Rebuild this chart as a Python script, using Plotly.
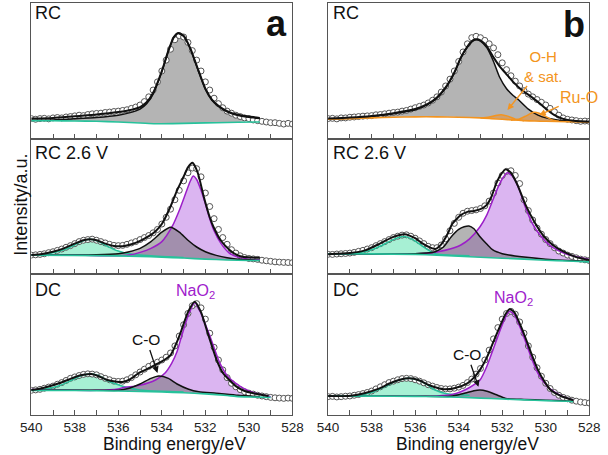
import plotly.graph_objects as go

FONT = "Liberation Sans, Arial, Helvetica, sans-serif"
W, H = 608, 455

# ---------------- data (binding energy in eV, intensity in % of panel height) ----------------
E_DATA = [round(540 - 0.2 * i, 1) for i in range(61)]
E_MAJOR = [540, 538, 536, 534, 532, 530, 528]
E_MAJOR_TEXT = ["540", "538", "536", "534", "532", "530", "528"]

# ---- panel a, RC ----
A1_DATA = [15.0, 14.5, 15.0, 15.2, 14.8, 15.5, 15.8, 15.5, 16.2, 16.5, 17.0, 17.5, 17.2, 18.0, 18.5,
           18.8, 19.0, 19.5, 19.8, 20.2, 20.5, 21.0, 21.5, 22.5, 23.5, 25.0, 27.5, 31.0, 36.0, 42.0,
           50.0, 58.0, 66.0, 73.0, 76.0, 75.0, 71.0, 65.0, 58.0, 50.0, 42.0, 36.0, 30.0, 26.0, 23.0,
           20.5, 19.0, 17.5, 16.5, 15.5, 15.0, 14.0, 13.5, 13.0, 12.5, 12.0, 12.0, 11.5, 11.0, 11.5, 11.0]
A1_ENV_E = [540, 539, 538, 537, 536, 535.5, 535, 534.7, 534.4, 534, 533.7, 533.45, 533.25, 533.0, 532.7,
            532.4, 532.0, 531.7, 531.4, 531.0, 530.5, 530.0, 529.5]
A1_ENV = [15, 15.5, 16.8, 18, 19.8, 21.2, 23.5, 27, 34, 50, 65, 75, 78, 76, 67, 54, 37, 29, 24.5, 20.5,
          17.8, 16.5, 15.5]
A1_GRAY_E = A1_ENV_E
A1_GRAY = [13.8, 14.0, 14.8, 15.8, 17.5, 19.2, 22.0, 26, 33, 49.5, 64.5, 74.5, 77.5, 75.5, 66.5, 53.5,
           36.5, 28.5, 24, 20, 17.3, 16, 15]
A1_BG_E = [540, 539, 538, 537, 536, 535, 534.3, 533.5, 532.5, 531.5, 530.5, 529.5]
A1_BG = [13.5, 13.4, 13.2, 13.0, 12.5, 11.8, 11.2, 11.3, 11.7, 12.0, 12.3, 12.5]

# ---- panel b, RC ----
B1_DATA = [15.0, 15.2, 14.8, 15.5, 15.5, 16.0, 16.2, 16.5, 16.8, 17.0, 17.2, 17.8, 18.0, 18.5, 19.0,
           19.5, 19.8, 20.5, 21.0, 22.0, 23.0, 24.0, 25.0, 26.5, 28.5, 31.0, 34.5, 39.0, 44.0, 50.0,
           57.0, 64.0, 70.0, 74.5, 75.5, 74.5, 72.5, 70.0, 67.0, 62.0, 56.0, 51.0, 46.5, 42.5, 39.0,
           35.5, 33.0, 31.0, 29.0, 27.0, 25.0, 22.5, 20.0, 17.5, 15.5, 14.5, 14.0, 13.5, 13.0, 13.2, 13.0]
B1_ENV_E = [540, 539, 538, 537, 536, 535.4, 535, 534.6, 534.2, 533.9, 533.6, 533.35, 533.19, 533.0, 532.7,
            532.4, 532.1, 531.84, 531.5, 531.1, 530.66, 530.3, 529.9, 529.6, 529.2, 528.8, 528.4, 528]
B1_ENV = [15, 15.8, 17, 19, 22, 26, 30.5, 38, 49, 60, 68, 72.5, 73.3, 72.5, 68, 60, 53, 48.3, 42, 36,
          31, 26.5, 21, 17.6, 14.8, 13.6, 13, 12.8]
B1_GRAY_E = [540, 539, 538, 537, 536, 535.4, 535, 534.6, 534.2, 533.9, 533.6, 533.35, 533.19, 533.0, 532.7,
             532.4, 532.13, 531.8, 531.5, 531.24, 530.8, 530.36, 529.9, 529.47, 529, 528.5, 528]
B1_GRAY = [14.5, 15.3, 16.5, 18.5, 21.5, 25.5, 30, 37.5, 48.5, 59.5, 67.5, 72, 73, 72, 67, 57, 45.8, 37,
           32, 28.7, 22, 17.6, 15.2, 14, 13.2, 12.7, 12.5]
B1_OH_E = [533.0, 532.6, 532.3, 532.05, 531.75, 531.4, 531.0]
B1_OH = [15.5, 16.2, 17.3, 17.8, 16.8, 14.6, 13.5]
B1_RUO_E = [531.6, 531.2, 530.9, 530.6, 530.3, 530.0, 529.7, 529.4]
B1_RUO = [13.8, 14.8, 17.0, 19.5, 19.0, 16.5, 14.0, 13.0]
B1_BG_E = [540, 539, 538, 537, 536, 535, 534, 533, 532.5, 532, 531.5, 531, 530.5, 530, 529, 528]
B1_BG = [14.5, 15.0, 15.5, 16.0, 16.3, 16.3, 16.0, 15.5, 15.0, 14.5, 14.0, 13.5, 13.2, 13.0, 12.7, 12.5]

# ---- panel a, RC 2.6 V ----
A2_DATA = [14.0, 14.2, 14.5, 15.0, 15.8, 16.5, 17.5, 18.5, 19.8, 21.0, 22.5, 24.0, 25.0, 25.5, 25.8,
           25.0, 24.0, 23.0, 22.0, 21.2, 21.0, 21.2, 22.0, 23.0, 24.0, 25.5, 27.0, 28.5, 30.5, 33.0,
           37.0, 42.0, 48.0, 55.0, 62.0, 69.0, 75.0, 78.5, 78.0, 72.0, 60.0, 50.0, 41.0, 33.0, 27.0,
           22.0, 18.0, 15.5, 13.5, 12.2, 11.5, 11.2, 10.8, 10.2, 9.8, 9.4, 9.0, 8.8, 8.6, 8.5, 8.4]
A2_ENV_E = [540, 539.5, 539, 538.5, 538, 537.6, 537.3, 537, 536.6, 536.2, 535.8, 535.4, 535, 534.6, 534.3,
            534, 533.6, 533.3, 533.0, 532.8, 532.59, 532.35, 532.07, 531.8, 531.63, 531.3, 530.9, 530.6,
            530.3, 529.9, 529.5]
A2_ENV = [14, 14.8, 16.5, 19, 22.5, 25, 25.8, 25, 22.5, 20.8, 20.6, 22, 24.5, 28, 31.5, 37, 50, 62, 72,
          79, 82.4, 75, 57, 42, 35, 25, 18, 14.5, 12.8, 12.2, 12]
A2_GREEN_E = [540, 539.5, 539, 538.5, 538, 537.7, 537.3, 536.9, 536.5, 536, 535.5, 535, 534, 533]
A2_GREEN = [14, 14.5, 15.8, 18, 21.5, 24, 25.7, 24, 20.5, 17, 15, 14, 13, 12.2]
A2_PURPLE_E = [540, 538, 536, 535.5, 535, 534.5, 534, 533.5, 533.2, 532.9, 532.7, 532.56, 532.4, 532.2,
               532.0, 531.8, 531.6, 531.3, 530.9, 530.5, 530, 529.5]
A2_PURPLE = [14, 14, 13.5, 14, 16, 19, 24, 36, 47, 60, 68.5, 72.6, 70, 62, 52, 41, 32, 23, 15.5, 12.5,
             11, 10.5]
A2_GRAY_E = [540, 538, 537, 536, 535.5, 535, 534.5, 534, 533.6, 533.2, 532.8, 532.4, 532, 531.5, 531,
             530.5, 530, 529.5]
A2_GRAY = [14, 14, 14.2, 15, 16.5, 19, 24, 31, 34.6, 31, 25, 20, 16.5, 13.8, 12, 11, 10.5, 10]
A2_BG_E = [540, 538, 536, 535, 534, 533, 532, 531, 530, 529.5]
A2_BG = [14, 13.8, 13.4, 13.0, 12.5, 11.8, 11, 10.4, 10, 10]

# ---- panel b, RC 2.6 V ----
B2_DATA = [14.6, 14.5, 14.8, 15.0, 15.2, 15.5, 16.0, 16.8, 17.5, 18.5, 19.5, 21.0, 22.5, 24.0, 25.5,
           27.0, 28.0, 28.8, 29.0, 28.0, 26.5, 24.5, 22.5, 20.5, 19.5, 19.5, 21.5, 26.0, 32.0, 37.5,
           42.0, 45.0, 46.5, 47.0, 47.5, 48.5, 50.5, 54.0, 60.0, 67.5, 73.0, 76.0, 76.5, 73.0, 67.0,
           55.0, 47.0, 40.0, 34.0, 29.5, 25.5, 22.5, 19.5, 17.0, 15.5, 14.0, 13.0, 12.0, 11.0, 10.5, 10.0]
B2_ENV_E = [540, 539, 538.3, 537.6, 537, 536.49, 536, 535.67, 535.3, 535.08, 534.8, 534.5, 534.3, 533.9,
            533.6, 533.3, 533.0, 532.72, 532.5, 532.28, 532.05, 531.84, 531.6, 531.3, 530.95, 530.5,
            530.07, 529.6, 529.18, 528.6, 528]
B2_ENV = [14.6, 15.5, 17.5, 22.7, 27.5, 29.5, 26.5, 22.7, 19.5, 18.5, 22, 30, 37, 43.7, 46, 46.7, 48, 51,
          57, 67, 74, 77.5, 75, 66, 52, 38, 27.6, 20.5, 16.5, 12.5, 10.4]
B2_GREEN_E = [540, 539, 538.33, 537.9, 537.6, 537.2, 536.8, 536.49, 536.1, 535.67, 535.3, 535.08, 534.5, 533.5]
B2_GREEN = [15, 15.2, 16.5, 18.5, 20.7, 24, 26.8, 27.7, 25.5, 20.7, 16.8, 15, 14, 13.5]
B2_PURPLE_E = [540, 537, 535.5, 534.95, 534.4, 533.9, 533.5, 533.02, 532.7, 532.43, 532.2, 531.96, 531.76,
               531.5, 531.2, 530.95, 530.6, 530.2, 529.8, 529.47, 529, 528.44, 528]
B2_PURPLE = [15, 14.8, 15.3, 16.5, 18.5, 21.5, 26, 35, 44, 54.8, 64, 71.5, 75, 72, 62, 50, 37, 27.6, 21,
             17.8, 14.5, 12.3, 10.8]
B2_GRAY_E = [540, 537, 536, 535.5, 535.08, 534.7, 534.34, 534, 533.75, 533.53, 533.3, 533.02, 532.7,
             532.43, 532, 531.7, 531, 530, 529, 528]
B2_GRAY = [14.8, 14.8, 15, 15.5, 16.5, 20, 27.6, 33, 35, 35.6, 33.5, 27.6, 22, 17.8, 15, 14, 12.5, 11,
           10, 9.5]
B2_BG_E = [540, 538, 536, 535, 534, 533, 532, 531, 530, 529, 528]
B2_BG = [15, 14.9, 14.5, 14.0, 13.2, 12.4, 11.7, 11.0, 10.2, 9.6, 9.0]

# ---- panel a, DC ----
A3_DATA = [17.5, 17.8, 18.2, 19.0, 19.8, 20.5, 21.8, 23.0, 24.5, 26.0, 27.0, 28.0, 28.8, 29.2, 29.0,
           28.5, 27.2, 26.0, 25.0, 24.0, 23.8, 24.0, 25.0, 26.5, 28.5, 30.5, 32.5, 34.5, 36.0, 37.5,
           39.0, 41.0, 44.0, 49.0, 56.0, 64.0, 72.0, 77.5, 79.0, 76.0, 68.0, 58.0, 48.0, 39.0, 32.0,
           26.5, 22.5, 20.0, 18.0, 16.5, 15.5, 14.8, 14.0, 13.5, 13.0, 12.5, 12.2, 12.0, 11.8, 12.0, 11.8]
A3_ENV_E = [540, 539.5, 538.72, 538.3, 537.98, 537.6, 537.24, 536.9, 536.5, 536.06, 535.76, 535.5, 535.03,
            534.5, 534, 533.6, 533.3, 533.1, 532.8, 532.49, 532.2, 531.93, 531.7, 531.48, 531.2, 530.9,
            530.6, 530.3, 529.7, 529.1]
A3_ENV = [17.7, 19, 22.5, 25, 27, 28.5, 29, 27.5, 24.8, 23.6, 23.6, 25, 30, 34, 38, 42.5, 52, 60, 73,
          80.4, 73, 60, 49, 39, 30, 24.8, 20.5, 17.7, 15, 13.5]
A3_GREEN_E = [540, 539.45, 538.72, 538.3, 537.9, 537.6, 537.24, 536.9, 536.5, 536.2, 535.6, 535, 534, 533]
A3_GREEN = [17.5, 18.2, 20.8, 23.5, 26.5, 28.3, 29, 27.8, 24.5, 22.5, 19.5, 17.8, 16.8, 16.3]
A3_PURPLE_E = [540, 537, 536, 535.76, 535.03, 534.29, 533.84, 533.55, 533.3, 533.1, 532.8, 532.49, 532.2,
               531.78, 531.33, 530.95, 530.6, 530.2, 529.7, 529.3, 529]
A3_PURPLE = [18, 17.5, 18.5, 19.5, 21, 24.8, 30, 36.6, 45, 55.5, 70, 79.6, 72, 55.5, 36.6, 27, 22.5, 18.5,
             15.4, 14, 13]
A3_GRAY_E = [540, 537, 536, 535.5, 535, 534.5, 534.14, 533.7, 533.3, 532.8, 532.3, 531.5, 530.5, 529.5]
A3_GRAY = [17.8, 17.6, 17.5, 19, 22, 26, 27.7, 26, 22, 18.5, 16.5, 15.5, 14, 13]
A3_BG_E = [540, 538, 536, 535, 534, 533, 532, 531, 530.6, 530, 529]
A3_BG = [17.5, 17.4, 17.0, 16.7, 16.3, 15.8, 15, 13.8, 13.2, 12.8, 12.5]

# ---- panel b, DC ----
B3_DATA = [13.0, 13.2, 12.8, 13.0, 13.3, 13.5, 14.0, 14.5, 15.2, 16.0, 17.0, 18.5, 20.0, 21.5, 23.0,
           24.0, 25.0, 25.8, 26.0, 25.8, 25.0, 24.0, 22.8, 21.5, 20.5, 19.5, 18.8, 18.5, 18.5, 19.0,
           19.8, 21.0, 23.0, 25.5, 29.0, 33.0, 39.0, 46.0, 54.0, 62.0, 68.0, 72.0, 73.5, 71.5, 66.0,
           58.0, 49.0, 41.0, 33.5, 27.5, 22.5, 18.8, 16.0, 14.0, 12.5, 11.5, 10.5, 9.8, 9.2, 8.8, 8.5]
B3_ENV_E = [540, 539.07, 538.33, 537.7, 537.15, 536.7, 536.27, 535.8, 535.38, 535.0, 534.64, 534.2, 533.6,
            533.3, 533.02, 532.7, 532.43, 532.1, 531.85, 531.66, 531.45, 531.2, 530.95, 530.65, 530.36,
            530.05, 529.77, 529.3, 528.74]
B3_ENV = [13.5, 13.5, 15.4, 18.5, 22.5, 25, 26, 24.5, 21.3, 19.3, 18.2, 19, 22.5, 26.5, 32, 41, 51, 63,
          71.5, 75, 73, 65, 55.5, 43, 32, 23.5, 17.7, 13.5, 10.6]
B3_GREEN_E = [540, 539, 538.6, 537.9, 537.4, 537.0, 536.6, 536.27, 535.9, 535.5, 535.08, 534.6, 534.2, 533.5]
B3_GREEN = [13.5, 13.5, 14.0, 16.5, 20, 23.2, 25.3, 26, 25, 22, 17.7, 15.2, 14.5, 14.0]
B3_PURPLE_E = [540, 536, 535, 534.3, 533.9, 533.5, 533.02, 532.72, 532.43, 532.1, 531.85, 531.66, 531.45,
               531.2, 530.95, 530.65, 530.36, 530.0, 529.62, 529.2, 528.74]
B3_PURPLE = [13.5, 13.3, 13.5, 14.5, 16.5, 19.5, 24.8, 34, 46, 60, 69.5, 73.4, 71, 63, 53, 40, 29.5, 21.5,
             16.5, 13, 10.6]
B3_GRAY_E = [540, 536, 534.5, 534.05, 533.6, 533.3, 533.02, 532.7, 532.3, 531.84, 531, 530, 529, 528.74]
B3_GRAY = [13.4, 13.3, 13.2, 14.2, 16.0, 17.2, 17.7, 16.8, 14.5, 11.8, 11.0, 10.5, 10.0, 9.8]
B3_BG_E = [540, 538, 536, 535, 534, 533, 532, 531, 530, 529, 528.74]
B3_BG = [13.5, 13.4, 13.2, 13.0, 12.6, 12.0, 11.3, 10.7, 10.2, 9.7, 9.5]

PANEL_LABELS = ["RC", "RC", "RC 2.6 V", "RC 2.6 V", "DC", "DC"]

# ---------------- styles ----------------
TEAL = "#27c29b"
PURPLE = "#9b1ec8"
ORANGE = "#f39420"
FRAME = "#555555"
STYLE = {
    "gray": dict(line="#111111", fill="rgba(105,105,105,0.5)", width=1.5),
    "purple": dict(line=PURPLE, fill="rgba(175,90,225,0.45)", width=1.5),
    "green": dict(line=TEAL, fill="rgba(60,222,160,0.45)", width=1.5),
    "orange": dict(line=ORANGE, fill="rgba(235,140,40,0.5)", width=1.5),
}

PANELS = [
    dict(data=A1_DATA, env=(A1_ENV_E, A1_ENV), bg=(A1_BG_E, A1_BG, TEAL),
         comps=[(A1_GRAY_E, A1_GRAY, "gray")]),
    dict(data=B1_DATA, env=(B1_ENV_E, B1_ENV), bg=(B1_BG_E, B1_BG, ORANGE),
         comps=[(B1_GRAY_E, B1_GRAY, "gray"), (B1_OH_E, B1_OH, "orange"), (B1_RUO_E, B1_RUO, "orange")]),
    dict(data=A2_DATA, env=(A2_ENV_E, A2_ENV), bg=(A2_BG_E, A2_BG, TEAL),
         comps=[(A2_GREEN_E, A2_GREEN, "green"), (A2_PURPLE_E, A2_PURPLE, "purple"), (A2_GRAY_E, A2_GRAY, "gray")]),
    dict(data=B2_DATA, env=(B2_ENV_E, B2_ENV), bg=(B2_BG_E, B2_BG, TEAL),
         comps=[(B2_GREEN_E, B2_GREEN, "green"), (B2_PURPLE_E, B2_PURPLE, "purple"), (B2_GRAY_E, B2_GRAY, "gray")]),
    dict(data=A3_DATA, env=(A3_ENV_E, A3_ENV), bg=(A3_BG_E, A3_BG, TEAL),
         comps=[(A3_GREEN_E, A3_GREEN, "green"), (A3_PURPLE_E, A3_PURPLE, "purple"), (A3_GRAY_E, A3_GRAY, "gray")]),
    dict(data=B3_DATA, env=(B3_ENV_E, B3_ENV), bg=(B3_BG_E, B3_BG, TEAL),
         comps=[(B3_GREEN_E, B3_GREEN, "green"), (B3_PURPLE_E, B3_PURPLE, "purple"), (B3_GRAY_E, B3_GRAY, "gray")]),
]

# layout geometry (pixels)
COL_X = [(21, 292), (329, 600)]
ROW_Y = [(3, 139), (139, 274), (274, 415)]


def px_x(p):
    return p / W


def px_y(p):
    return 1 - p / H


def fill_polygon(cx, cy, bx, by):
    lo, hi = min(cx), max(cx)
    xs = list(cx)
    ys = list(cy)
    for e, v in zip(reversed(bx), reversed(by)):
        if lo < e < hi:
            xs.append(e)
            ys.append(v)
    return xs, ys


fig = go.Figure()
layout_axes = {}

for i, p in enumerate(PANELS):
    n = i + 1
    xs = "x" if n == 1 else f"x{n}"
    ys = "y" if n == 1 else f"y{n}"
    bx, by, bcol = p["bg"]
    for cx, cy, kind in p["comps"]:
        fx, fy = fill_polygon(cx, cy, bx, by)
        fig.add_trace(go.Scatter(x=fx, y=fy, fill="toself", fillcolor=STYLE[kind]["fill"],
                                 mode="lines", line=dict(width=0, shape="spline", smoothing=0.6),
                                 xaxis=xs, yaxis=ys, hoverinfo="skip", showlegend=False))
    fig.add_trace(go.Scatter(x=E_DATA, y=p["data"], mode="markers",
                             marker=dict(symbol="circle", size=6, color="white",
                                         line=dict(color="#555555", width=1)),
                             xaxis=xs, yaxis=ys, showlegend=False))
    for cx, cy, kind in p["comps"]:
        fig.add_trace(go.Scatter(x=cx, y=cy, mode="lines",
                                 line=dict(color=STYLE[kind]["line"], width=STYLE[kind]["width"],
                                           shape="spline", smoothing=0.6),
                                 xaxis=xs, yaxis=ys, showlegend=False))
    fig.add_trace(go.Scatter(x=bx, y=by, mode="lines",
                             line=dict(color=bcol, width=1.6, shape="spline", smoothing=0.6),
                             xaxis=xs, yaxis=ys, showlegend=False))
    ex, ey = p["env"]
    fig.add_trace(go.Scatter(x=ex, y=ey, mode="lines",
                             line=dict(color="#111111", width=2, shape="spline", smoothing=0.6),
                             xaxis=xs, yaxis=ys, showlegend=False))

    col = i % 2
    row = i // 2
    x0, x1 = COL_X[col]
    y0, y1 = ROW_Y[row]
    xk = "xaxis" if n == 1 else f"xaxis{n}"
    yk = "yaxis" if n == 1 else f"yaxis{n}"
    layout_axes[xk] = dict(domain=[px_x(x0), px_x(x1)], range=[540, 528], anchor=ys,
                           showline=True, mirror=True, linecolor=FRAME, linewidth=1,
                           ticks="inside", ticklen=5, tickwidth=1, tickcolor=FRAME,
                           tickmode="array", tickvals=E_MAJOR, ticktext=E_MAJOR_TEXT,
                           minor=dict(ticks="inside", ticklen=5, tickwidth=1, tickcolor=FRAME,
                                      tick0=540, dtick=1, showgrid=False),
                           showticklabels=(row == 2), showgrid=False, zeroline=False,
                           tickfont=dict(family=FONT, size=13.5, color="#222222"))
    layout_axes[yk] = dict(domain=[px_y(y1), px_y(y0)], range=[0, 100], anchor=xs,
                           showline=True, mirror=True, linecolor=FRAME, linewidth=1,
                           ticks="", showticklabels=False, showgrid=False, zeroline=False)

annotations = []


def text(t, x, y, size, color="#111111", xanchor="center", bold=False):
    annotations.append(dict(text=f"<b>{t}</b>" if bold else t, x=px_x(x), y=px_y(y),
                            xref="paper", yref="paper", xanchor=xanchor, yanchor="middle",
                            showarrow=False, font=dict(family=FONT, size=size, color=color)))


def arrow_label(t, xref, yref, x, y, ax, ay, size, color):
    # label text sits at the arrow tail; the arrow points to (x, y) in data units
    annotations.append(dict(text=t, x=x, y=y, xref=xref, yref=yref, ax=ax, ay=ay,
                            showarrow=True, arrowhead=2, arrowsize=1, arrowwidth=1.3,
                            arrowcolor=color, standoff=0, startstandoff=0,
                            font=dict(family=FONT, size=size, color=color)))


for i, lab in enumerate(PANEL_LABELS):
    col = i % 2
    row = i // 2
    lx = [22.5, 331.5][col]
    ly = [13, 153.3, 290][row]
    text(lab, lx, ly, 18, xanchor="left")

text("a", 275, 23, 36, bold=True)
text("b", 584, 24, 36, bold=True)

text("Intensity/a.u.", 10, 205, 18)
annotations[-1]["textangle"] = -90
text("Binding energy/eV", 170, 444, 17.5)
text("Binding energy/eV", 474, 444, 17.5)

text("NaO<sub>2</sub>", 191, 291.5, 16, color="#a020cc")
text("NaO<sub>2</sub>", 521, 298, 16, color="#a020cc")

arrow_label("C-O", "x5", "y5", 534.2, 29.8, -11, -33, 15.5, "#111111")
arrow_label("C-O", "x6", "y6", 533.09, 20, -11, -32, 15.5, "#111111")
arrow_label("O-H<br>&amp; sat.", "x2", "y2", 531.76, 21.3, 36, -44, 15, ORANGE)
arrow_label("Ru-O", "x2", "y2", 530.3, 17.6, 40, -18, 16, ORANGE)

fig.update_layout(width=W, height=H, margin=dict(l=0, r=0, t=0, b=0),
                  paper_bgcolor="white", plot_bgcolor="white", showlegend=False,
                  font=dict(family=FONT, color="#111111"), annotations=annotations,
                  **layout_axes)

fig.write_html("out.html",
               post_script="document.body.style.margin='0';document.body.style.padding='0';")
